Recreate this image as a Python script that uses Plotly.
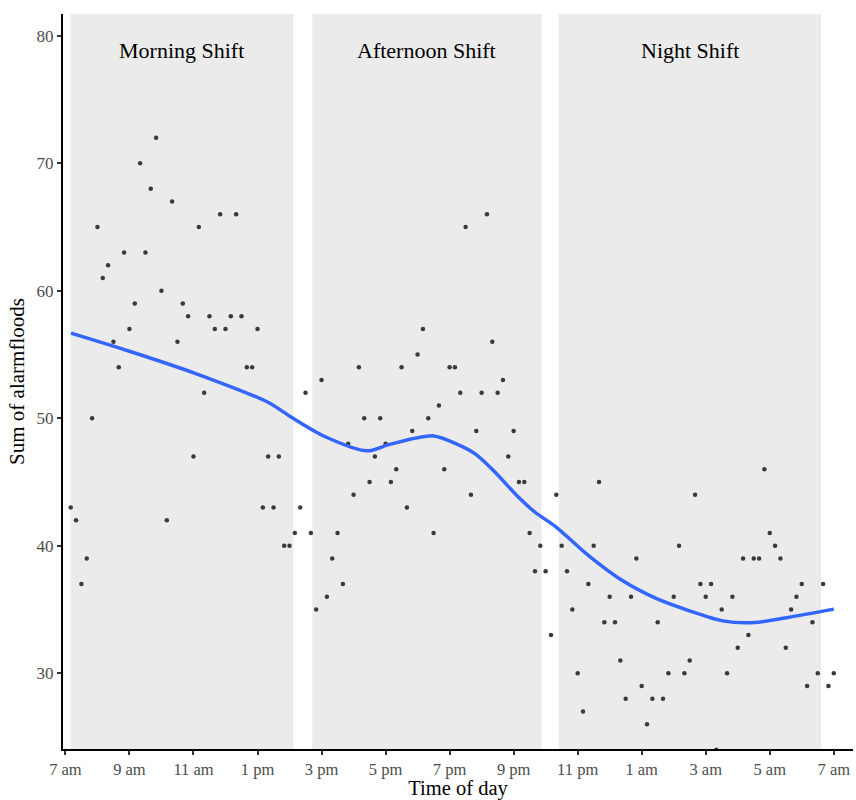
import plotly.graph_objects as go

# Hours after 7 am at which each 10-minute count was recorded (7:10 am ... 7:00 am next day)
hours = [(k + 1) / 6 for k in range(144)]

alarmfloods = [
    43, 42, 37, 39, 50, 65, 61, 62, 56, 54, 63, 57, 59, 70, 63, 68, 72, 60, 42, 67, 56, 59, 58, 47,
    65, 52, 58, 57, 66, 57, 58, 66, 58, 54, 54, 57, 43, 47, 43, 47, 40, 40, 41, 43, 52, 41, 35, 53,
    36, 39, 41, 37, 48, 44, 54, 50, 45, 47, 50, 48, 45, 46, 54, 43, 49, 55, 57, 50, 41, 51, 46, 54, 54,
    52, 65, 44, 49, 52, 66, 56, 52, 53, 47, 49, 45, 45, 41, 38, 40, 38, 33, 44, 40, 38, 35, 30, 27, 37,
    40, 45, 34, 36, 34, 31, 28, 36, 39, 29, 26, 28, 34, 28, 30, 36, 40, 30, 31, 44, 37, 36, 37, 24, 35,
    30, 36, 32, 39, 33, 39, 39, 46, 41, 40, 39, 32, 35, 36, 37, 29, 34, 30, 37, 29, 30,
]

# Smoothed trend
trend_hours = [0.175, 2.0, 4.07, 6.34, 7.07, 8.10, 9.42, 10.15, 11.50, 12.23, 12.81, 13.43,
               14.06, 14.68, 15.31, 16.35, 17.41, 18.45, 19.49, 20.53, 21.53, 22.57, 24.0]
trend_values = [56.67, 55.25, 53.5, 51.23, 50.05, 48.56, 47.44, 47.96, 48.61, 47.96, 47.18, 45.74,
                44.04, 42.6, 41.5, 39.2, 37.24, 35.86, 34.89, 34.1, 33.97, 34.37, 35.02]

shift_names = ["Morning Shift", "Afternoon Shift", "Night Shift"]
shift_start = [0.156, 7.711, 15.41]
shift_end = [7.118, 14.87, 23.60]

tick_hours = [0, 2, 4, 6, 8, 10, 12, 14, 16, 18, 20, 22, 24]
tick_labels = ["7 am", "9 am", "11 am", "1 pm", "3 pm", "5 pm", "7 pm", "9 pm",
               "11 pm", "1 am", "3 am", "5 am", "7 am"]
y_ticks = [30, 40, 50, 60, 70, 80]

FONT = "Liberation Serif"

fig = go.Figure()

for s0, s1 in zip(shift_start, shift_end):
    fig.add_shape(type="rect", xref="x", yref="paper", x0=s0, x1=s1, y0=0, y1=1,
                  fillcolor="#EBEBEB", line_width=0, layer="below")

for name, s0, s1 in zip(shift_names, shift_start, shift_end):
    fig.add_annotation(x=(s0 + s1) / 2, y=78.85, text=name, showarrow=False,
                       xanchor="center", yanchor="middle",
                       font=dict(family=FONT, size=22, color="black"))

fig.add_trace(go.Scatter(x=hours, y=alarmfloods, mode="markers",
                         marker=dict(size=4.5, color="#3a3a3a"), showlegend=False,
                         hoverinfo="x+y"))

fig.add_trace(go.Scatter(x=trend_hours, y=trend_values, mode="lines",
                         line=dict(color="#3366FF", width=3.5, shape="spline", smoothing=0.8),
                         showlegend=False))

fig.update_layout(
    width=856, height=800,
    margin=dict(l=63, r=3, t=14, b=51),
    plot_bgcolor="white", paper_bgcolor="white",
    font=dict(family=FONT, color="black"),
    xaxis=dict(
        range=[-0.075, 24.6], tickvals=tick_hours, ticktext=tick_labels,
        showgrid=False, zeroline=False, showline=True, linecolor="black", linewidth=2,
        ticks="outside", ticklen=4, tickwidth=1.5, tickcolor="#333333",
        tickfont=dict(family=FONT, size=16.5, color="#4D4D4D"),
        title=dict(text="Time of day", font=dict(family=FONT, size=20.5, color="black"), standoff=1),
    ),
    yaxis=dict(
        range=[24.05, 81.7], tickvals=y_ticks,
        showgrid=False, zeroline=False, showline=True, linecolor="black", linewidth=2,
        ticks="outside", ticklen=4, tickwidth=1.5, tickcolor="#333333",
        tickfont=dict(family=FONT, size=17, color="#4D4D4D"),
        title=dict(text="Sum of alarmfloods", font=dict(family=FONT, size=21, color="black"), standoff=6),
    ),
)

fig.write_html("out.html")
